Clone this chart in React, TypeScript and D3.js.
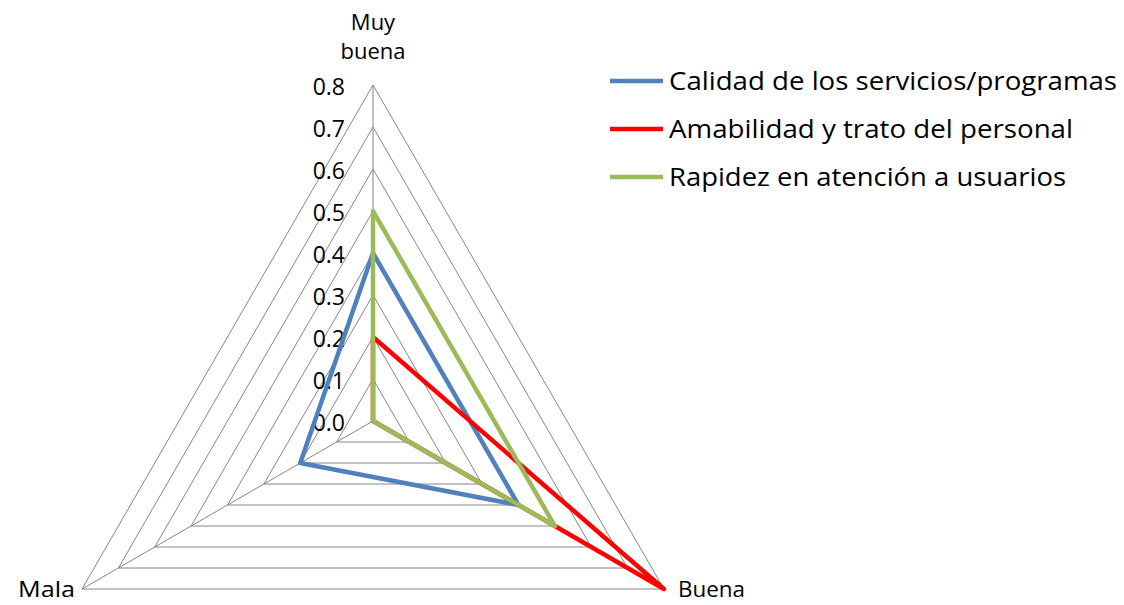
import React from "react";
import * as d3 from "d3";

const categories = ["Muy buena", "Buena", "Mala"];
const seriesNames = [
  "Calidad de los servicios/programas",
  "Amabilidad y trato del personal",
  "Rapidez en atención a usuarios",
];
const calidad = [0.4, 0.4, 0.2];
const amabilidad = [0.2, 0.8, 0.0];
const rapidez = [0.5, 0.5, 0.0];
const tickValues = [0, 0.1, 0.2, 0.3, 0.4, 0.5, 0.6, 0.7, 0.8];
const tickLabels = ["0.0", "0.1", "0.2", "0.3", "0.4", "0.5", "0.6", "0.7", "0.8"];
const colors = ["#4F81BD", "#FF0000", "#9BBB59"];

const W = 1124;
const H = 605;
const cx = 373;
const cy = 421;
const FONT = "'Open Sans', 'Liberation Sans', sans-serif";

export default function App() {
  const r = d3.scaleLinear().domain([0, 0.8]).range([0, 336]);
  const angle = d3
    .scalePoint<string>()
    .domain(categories)
    .range([0, (2 * Math.PI * 2) / 3]);
  const pt = (cat: string, v: number): [number, number] => {
    const a = angle(cat)!;
    return [cx + r(v) * Math.sin(a), cy - r(v) * Math.cos(a)];
  };
  const allSeries = [calidad, amabilidad, rapidez];
  const line = d3.line<[number, number]>().curve(d3.curveLinearClosed);

  const gridPaths = tickValues.slice(1).map((t) =>
    line(categories.map((c) => pt(c, t)))
  );

  const legendY = [81, 129, 177];
  const legendLen = [448, 404, 397];

  return (
    <svg
      width={W}
      height={H}
      style={{ position: "absolute", left: 0, top: 0, background: "#fff" }}
    >
      <rect x={0} y={0} width={W} height={H} fill="#fff" />
      <g fill="none" stroke="#868686" strokeWidth={1}>
        {gridPaths.map((d, i) => (
          <path key={i} d={d!} />
        ))}
        {categories.map((c) => {
          const [x, y] = pt(c, 0.8);
          return <line key={c} x1={cx} y1={cy} x2={x} y2={y} />;
        })}
      </g>
      <g fontFamily={FONT} fontSize={23} fill="#000" textAnchor="end">
        {tickValues.map((t, i) => {
          const [, y] = pt(categories[0], t);
          return (
            <text key={i} x={345} y={y + 10}>
              {tickLabels[i]}
            </text>
          );
        })}
      </g>
      <g fill="none" strokeWidth={4.5} strokeLinejoin="round">
        {allSeries.map((s, i) => (
          <path
            key={i}
            d={line(categories.map((c, j) => pt(c, s[j])))!}
            stroke={colors[i]}
          />
        ))}
      </g>
      <g fontFamily={FONT} fontSize={22} fill="#000">
        <text x={cx} y={30} textAnchor="middle">
          Muy
        </text>
        <text x={cx} y={59} textAnchor="middle">
          buena
        </text>
        <text x={678} y={597} textLength={67} lengthAdjust="spacingAndGlyphs">
          {categories[1]}
        </text>
        <text x={18} y={597} textLength={57} lengthAdjust="spacingAndGlyphs">
          {categories[2]}
        </text>
      </g>
      <g fontFamily={FONT} fontSize={25} fill="#000">
        {seriesNames.map((n, i) => (
          <g key={n}>
            <line
              x1={610}
              x2={663}
              y1={legendY[i]}
              y2={legendY[i]}
              stroke={colors[i]}
              strokeWidth={4.5}
            />
            <text
              x={669}
              y={legendY[i] + 9}
              textLength={legendLen[i]}
              lengthAdjust="spacingAndGlyphs"
            >
              {n}
            </text>
          </g>
        ))}
      </g>
    </svg>
  );
}
